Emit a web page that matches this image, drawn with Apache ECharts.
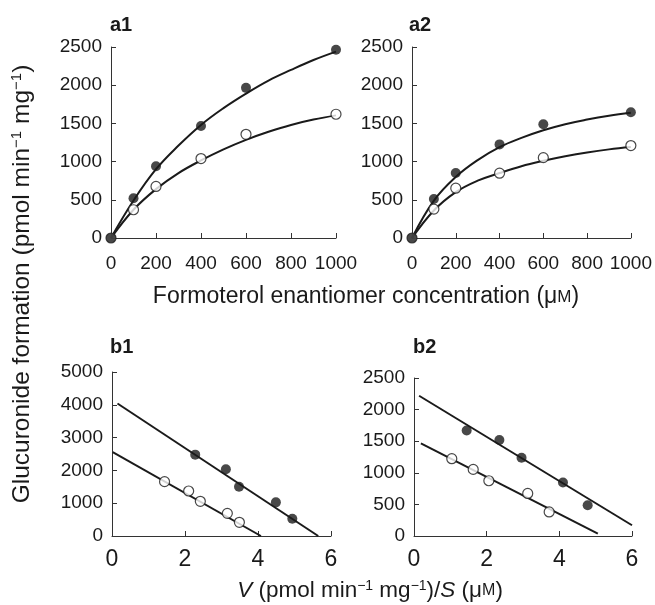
<!DOCTYPE html>
<html lang="en">

<head>
  <meta charset="UTF-8">
  <title>Glucuronide formation</title>
  <style>
    html, body {
      margin: 0;
      padding: 0;
      background: #fff;
    }

    #chart {
      width: 655px;
      height: 605px;
    }
  </style>
</head>

<body>
  <div id="chart"></div>

  <script src="https://cdn.jsdelivr.net/npm/echarts@6/dist/echarts.min.js"></script>
  <script>
    // a1 / a2 : rate vs concentration (measured points)
    const concPoints = [0, 100, 200, 400, 600, 1000];
    const a1Filled = [0, 520, 940, 1465, 1965, 2465];
    const a1Open = [0, 370, 675, 1040, 1357, 1620];
    const a2Filled = [0, 510, 850, 1225, 1490, 1645];
    const a2Open = [0, 378, 652, 848, 1052, 1210];

    // fitted curves
    const concCurve = [0, 100, 200, 300, 400, 500, 600, 700, 800, 900, 1000];
    const a1FilledFit = [0, 490, 900, 1210, 1480, 1700, 1890, 2060, 2200, 2330, 2440];
    const a1OpenFit = [0, 370, 640, 850, 1015, 1160, 1285, 1390, 1480, 1550, 1605];
    const a2FilledFit = [0, 490, 800, 1020, 1190, 1310, 1410, 1490, 1550, 1600, 1640];
    const a2OpenFit = [0, 360, 600, 750, 850, 940, 1010, 1070, 1120, 1160, 1190];

    // b1 / b2 : Eadie-Hofstee (V vs V/S)
    const b1FilledX = [2.28, 3.12, 3.48, 4.49, 4.94];
    const b1FilledY = [2480, 2033, 1504, 1026, 528];
    const b1OpenX = [1.44, 2.10, 2.42, 3.16, 3.49];
    const b1OpenY = [1657, 1372, 1057, 691, 417];
    const b1FilledLineX = [0.15, 5.65];
    const b1FilledLineY = [4040, 0];
    const b1OpenLineX = [0.02, 4.08];
    const b1OpenLineY = [2560, 0];

    const b2FilledX = [1.45, 2.35, 2.96, 4.10, 4.78];
    const b2FilledY = [1668, 1520, 1239, 847, 487];
    const b2OpenX = [1.04, 1.63, 2.06, 3.13, 3.72];
    const b2OpenY = [1223, 1054, 874, 673, 381];
    const b2FilledLineX = [0.14, 6.0];
    const b2FilledLineY = [2219, 170];
    const b2OpenLineX = [0.19, 5.06];
    const b2OpenLineY = [1467, 37];

    const FONT = '"Liberation Sans", Arial, Helvetica, sans-serif';
    const INK = '#1a1a1a';

    const zip = (xs, ys) => xs.map((x, i) => [x, ys[i]]);

    const axisBase = (labelSize, margin) => ({
      type: 'value',
      axisLine: { show: true, lineStyle: { color: '#333', width: 1 } },
      axisTick: { show: true, inside: true, length: 5, lineStyle: { color: '#333' } },
      splitLine: { show: false },
      axisLabel: {
        fontSize: labelSize,
        color: INK,
        fontFamily: FONT,
        margin: margin,
        formatter: v => String(v),
      },
    });

    const xAxis = (gridIndex, max, interval, labelSize, margin) => ({
      ...axisBase(labelSize, margin),
      gridIndex, min: 0, max, interval,
    });

    const yAxis = (gridIndex, max, interval) => ({
      ...axisBase(19, 9),
      gridIndex, min: 0, max, interval,
    });

    const scatter = (idx, data, filled) => ({
      type: 'scatter',
      xAxisIndex: idx,
      yAxisIndex: idx,
      data,
      symbol: 'circle',
      symbolSize: 10,
      z: filled ? 4 : 3,
      itemStyle: filled
        ? { color: INK }
        : { color: '#fff', borderColor: INK, borderWidth: 1.2 },
    });

    const fitLine = (idx, data, smooth) => ({
      type: 'line',
      xAxisIndex: idx,
      yAxisIndex: idx,
      data,
      smooth,
      showSymbol: false,
      silent: true,
      z: 2,
      lineStyle: { color: INK, width: 2 },
    });

    const chart = echarts.init(document.getElementById('chart'));
    chart.setOption({
      animation: false,
      backgroundColor: '#fff',
      grid: [
        { left: 111, top: 47, width: 225, height: 191 },
        { left: 412, top: 47, width: 230, height: 191 },
        { left: 112, top: 372, width: 219, height: 164 },
        { left: 414, top: 378, width: 218, height: 158 },
      ],
      xAxis: [
        xAxis(0, 1000, 200, 19, 16),
        xAxis(1, 1000, 200, 19, 16),
        xAxis(2, 6, 2, 23, 12),
        xAxis(3, 6, 2, 23, 12),
      ],
      yAxis: [
        yAxis(0, 2500, 500),
        yAxis(1, 2500, 500),
        yAxis(2, 5000, 1000),
        yAxis(3, 2500, 500),
      ],
      series: [
        fitLine(0, zip(concCurve, a1FilledFit), 0.4),
        fitLine(0, zip(concCurve, a1OpenFit), 0.4),
        scatter(0, zip(concPoints, a1Open), false),
        scatter(0, zip(concPoints, a1Filled), true),

        fitLine(1, zip(concCurve, a2FilledFit), 0.4),
        fitLine(1, zip(concCurve, a2OpenFit), 0.4),
        scatter(1, zip(concPoints, a2Open), false),
        scatter(1, zip(concPoints, a2Filled), true),

        fitLine(2, zip(b1FilledLineX, b1FilledLineY), false),
        fitLine(2, zip(b1OpenLineX, b1OpenLineY), false),
        scatter(2, zip(b1OpenX, b1OpenY), false),
        scatter(2, zip(b1FilledX, b1FilledY), true),

        fitLine(3, zip(b2FilledLineX, b2FilledLineY), false),
        fitLine(3, zip(b2OpenLineX, b2OpenLineY), false),
        scatter(3, zip(b2OpenX, b2OpenY), false),
        scatter(3, zip(b2FilledX, b2FilledY), true),
      ],
      graphic: [
        { type: 'text', left: 110, top: 15, style: { text: 'a1', font: 'bold 20px ' + FONT, fill: INK } },
        { type: 'text', left: 409, top: 15, style: { text: 'a2', font: 'bold 20px ' + FONT, fill: INK } },
        { type: 'text', left: 110, top: 337, style: { text: 'b1', font: 'bold 20px ' + FONT, fill: INK } },
        { type: 'text', left: 413, top: 337, style: { text: 'b2', font: 'bold 20px ' + FONT, fill: INK } },
        {
          type: 'text',
          x: 366,
          y: 297,
          style: {
            text: '{t|Formoterol enantiomer concentration (μ}{sc|M}{t|)}',
            align: 'center',
            verticalAlign: 'middle',
            rich: {
              t: { fontSize: 23, fontFamily: FONT, fill: INK },
              sc: { fontSize: 17, fontFamily: FONT, fill: INK },
            },
          },
        },
        {
          type: 'text',
          x: 22,
          y: 284,
          rotation: Math.PI / 2,
          style: {
            text: '{t|Glucuronide formation (pmol min}{s|−1}{t| mg}{s|−1}{t|)}',
            align: 'center',
            verticalAlign: 'middle',
            rich: {
              t: { fontSize: 24.5, fontFamily: FONT, lineHeight: 26, fill: INK },
              s: { fontSize: 15, fontFamily: FONT, verticalAlign: 'top', lineHeight: 26, fill: INK },
            },
          },
        },
        {
          type: 'text',
          x: 370,
          y: 591,
          style: {
            text: '{i|V}{t| (pmol min}{s|−1}{t| mg}{s|−1}{t|)/}{i|S}{t| (μ}{sc|M}{t|)}',
            align: 'center',
            verticalAlign: 'middle',
            rich: {
              t: { fontSize: 22.5, fontFamily: FONT, lineHeight: 24, fill: INK },
              i: { fontSize: 22.5, fontFamily: FONT, fontStyle: 'italic', lineHeight: 24, fill: INK },
              sc: { fontSize: 16, fontFamily: FONT, lineHeight: 24, fill: INK },
              s: { fontSize: 14, fontFamily: FONT, verticalAlign: 'top', lineHeight: 24, fill: INK },
            },
          },
        },
      ],
    });
  </script>
</body>

</html>
